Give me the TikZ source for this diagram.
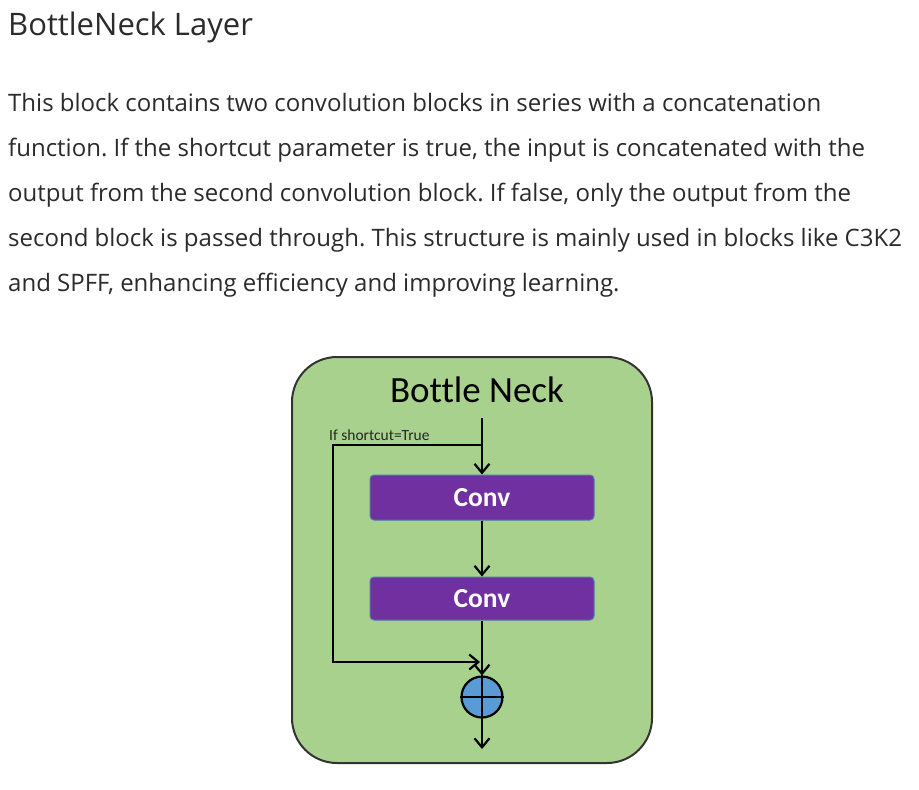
\documentclass[tikz,border=0pt]{standalone}
\usepackage{fontspec}
\setmainfont{Open Sans}
\newfontfamily\calibri[Ligatures=NoCommon]{Carlito}
\usetikzlibrary{arrows.meta,positioning}
\definecolor{pagetext}{HTML}{2B2B2B}
\definecolor{boxgreen}{HTML}{A9D18E}
\definecolor{convpurple}{HTML}{7030A0}
\definecolor{convedge}{HTML}{4A7AB0}
\definecolor{plusblue}{HTML}{5B9BD5}
\tikzset{
  bodyline/.style={anchor=base west, inner sep=0pt, text=pagetext,
    font=\fontsize{24}{28}\selectfont},
  convbox/.style={draw=convedge, line width=1pt, fill=convpurple, rounded corners=4pt,
    minimum width=224pt, text=white, font=\calibri\bfseries\fontsize{27.5}{30}\selectfont},
  flow/.style={line width=2.2pt, black}
}
\frenchspacing

\begin{document}
\begin{tikzpicture}[x=1pt,y=-1pt,>={Straight Barb[length=9pt,width=15pt]}]
\useasboundingbox (0,0) rectangle (919,790);
\fill[white] (0,0) rectangle (919,790);

% heading and text
\node[anchor=base west, inner sep=0pt, text=pagetext, font=\fontsize{31}{35}\selectfont]
  (heading) at (8,35) {BottleNeck Layer};
\node[bodyline] (line1) at (8,111) {This block contains two convolution blocks in series with a concatenation};
\node[bodyline] (line2) at (8,156) {function. If the shortcut parameter is true, the input is concatenated with the};
\node[bodyline] (line3) at (8,201) {output from the second convolution block. If false, only the output from the};
\node[bodyline] (line4) at (8,246) {second block is passed through. This structure is mainly used in blocks like C3K2};
\node[bodyline] (line5) at (8,291) {and SPFF, enhancing efficiency and improving learning.};

% bottleneck block
\node[draw=black!80, line width=2pt, fill=boxgreen, rounded corners=45pt,
  minimum width=360pt, minimum height=406pt] (bneck) at (472,560) {};
\node[font=\calibri\fontsize{37}{40}\selectfont, inner sep=0pt] (btitle) at (477,390) {Bottle Neck};

\node[convbox, minimum height=45pt] (conv1) at (482,497.5) {Conv};
\node[convbox, minimum height=43pt] (conv2) at (482,598.5) {Conv};
\node[circle, draw=black, line width=2.2pt, fill=plusblue, minimum size=41pt, inner sep=0pt]
  (plus) at (482,697) {};
\draw[line width=2.2pt] (plus.north) -- (plus.south) (plus.west) -- (plus.east);

\coordinate (in) at (482,418);
\coordinate (split) at (482,445);
\coordinate (skiptop) at (333,445);
\coordinate (skipbot) at (333,662);
\coordinate (merge) at (480,662);
\coordinate (out) at (482,749);

\node[anchor=base west, inner sep=0pt, text=black!85, font=\calibri\fontsize{15.5}{17}\selectfont]
  (shortcut) at (329,440) {If shortcut=True};

\draw[flow,->] (in) -- (conv1.north);
\draw[flow,->] (split) -- (skiptop) -- (skipbot) -- (merge);
\draw[flow,->] (conv1.south) -- (conv2.north);
\draw[flow,->] (conv2.south) -- (plus.north);
\draw[flow,->] (plus.south) -- (out);
\end{tikzpicture}
\end{document}
